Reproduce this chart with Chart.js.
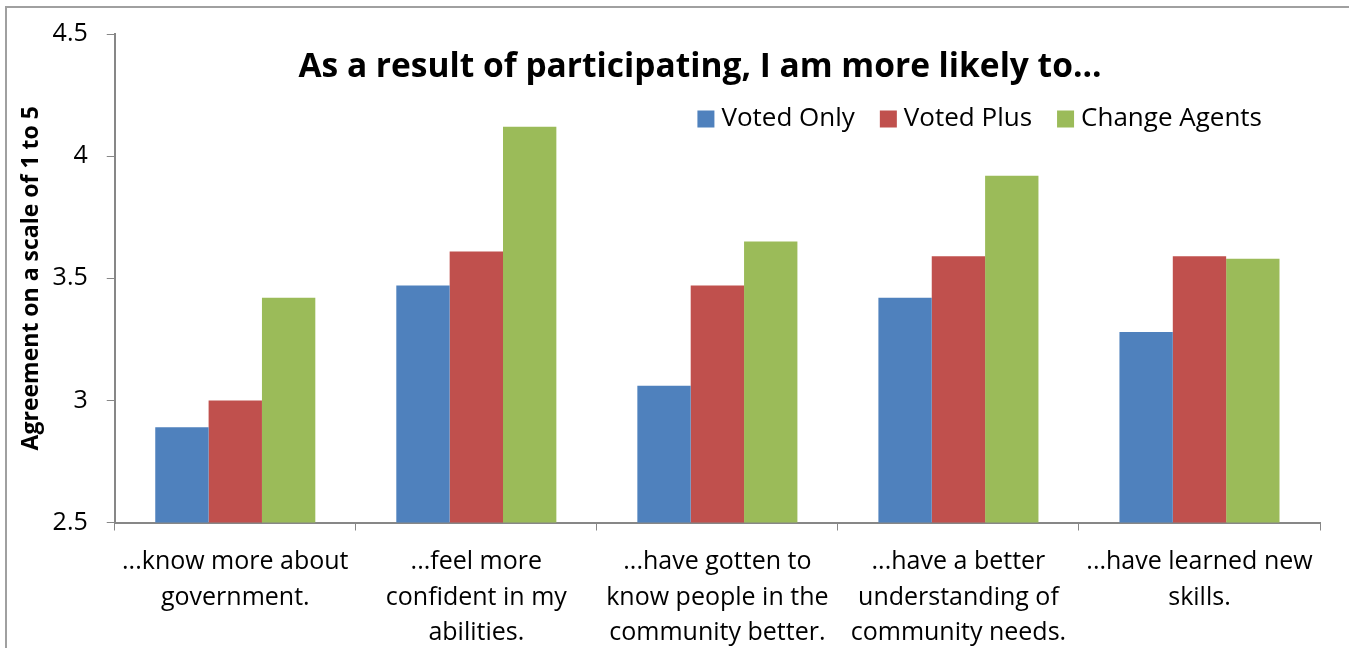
<!DOCTYPE html>
<html>
<head>
<meta charset="utf-8">
<script src="https://cdn.jsdelivr.net/npm/chart.js@4/dist/chart.umd.min.js"></script>
<style>
  body { margin: 0; background: #fff; }
  #wrap { position: relative; width: 1349px; height: 648px; }
  #frame { position: absolute; left: 5px; top: 6px; width: 1400px; height: 700px;
           border-left: 2px solid #a0a0a0; border-top: 2px solid #a0a0a0; pointer-events: none; }
</style>
</head>
<body>
<div id="wrap">
  <canvas id="chart" width="1349" height="648" style="width:1349px;height:648px"></canvas>
  <div id="frame"></div>
</div>
<script>
var chartTitle = 'As a result of participating, I am more likely to...';
var yTitle = 'Agreement on a scale of 1 to 5';
var categories = [
  ['...know more about', 'government.'],
  ['...feel more', 'confident in my', 'abilities.'],
  ['...have gotten to', 'know people in the', 'community better.'],
  ['...have a better', 'understanding of', 'community needs.'],
  ['...have learned new', 'skills.']
];
var seriesNames = ['Voted Only', 'Voted Plus', 'Change Agents'];
var votedOnly = [2.89, 3.47, 3.06, 3.42, 3.28];
var votedPlus = [3.00, 3.61, 3.47, 3.59, 3.59];
var changeAgents = [3.42, 4.12, 3.65, 3.92, 3.58];
var colors = ['#4F81BD', '#C0504D', '#9BBB59'];

var fontFamily = '"Open Sans", Lato, sans-serif';

// title and legend sit inside the plot, like the original
var overlay = {
  id: 'overlay',
  afterDraw: function(chart) {
    var ctx = chart.ctx;
    ctx.save();
    ctx.fillStyle = '#000';
    ctx.textBaseline = 'middle';
    ctx.textAlign = 'center';
    ctx.font = 'bold 33.5px ' + fontFamily;
    ctx.fillText(chartTitle, 700, 67);

    ctx.font = '26px ' + fontFamily;
    ctx.textAlign = 'left';
    var box = 17, gap = 7, spacing = 25;
    var total = 0;
    seriesNames.forEach(function(n, i) {
      total += box + gap + ctx.measureText(n).width;
      if (i < seriesNames.length - 1) total += spacing;
    });
    var x = 1262 - total, y = 119;
    seriesNames.forEach(function(n, i) {
      ctx.fillStyle = colors[i];
      ctx.fillRect(x, y - box / 2, box, box);
      x += box + gap;
      ctx.fillStyle = '#000';
      ctx.fillText(n, x, y);
      x += ctx.measureText(n).width + spacing;
    });
    ctx.restore();
  }
};

var ctx = document.getElementById('chart').getContext('2d');
var myChart = new Chart(ctx, {
  type: 'bar',
  data: {
    labels: categories,
    datasets: [
      { label: seriesNames[0], data: votedOnly, backgroundColor: colors[0] },
      { label: seriesNames[1], data: votedPlus, backgroundColor: colors[1] },
      { label: seriesNames[2], data: changeAgents, backgroundColor: colors[2] }
    ]
  },
  options: {
    responsive: false,
    animation: false,
    layout: { padding: { left: 2, right: 29, top: 8, bottom: -17 } },
    plugins: {
      legend: { display: false },
      title: { display: false },
      tooltip: { enabled: false }
    },
    datasets: {
      bar: { categoryPercentage: 0.664, barPercentage: 1.0 }
    },
    scales: {
      x: {
        grid: { display: true, drawOnChartArea: false, offset: true, tickLength: 8, color: '#878787' },
        border: { color: '#878787', width: 2 },
        ticks: { color: '#000', font: { family: fontFamily, size: 25, lineHeight: 1.42 }, maxRotation: 0, autoSkip: false, padding: 14 }
      },
      y: {
        min: 2.5,
        max: 4.5,
        ticks: {
          stepSize: 0.5, color: '#000', font: { family: fontFamily, size: 25 }, padding: 19,
          callback: function(v) { return String(v); }
        },
        grid: { display: true, drawOnChartArea: false, tickLength: 8, color: '#878787' },
        border: { color: '#878787', width: 2 },
        title: { display: true, text: yTitle, color: '#000', font: { family: fontFamily, size: 23, weight: 'bold' }, padding: { top: 16, bottom: -12 } }
      }
    }
  },
  plugins: [overlay]
});
</script>
</body>
</html>
